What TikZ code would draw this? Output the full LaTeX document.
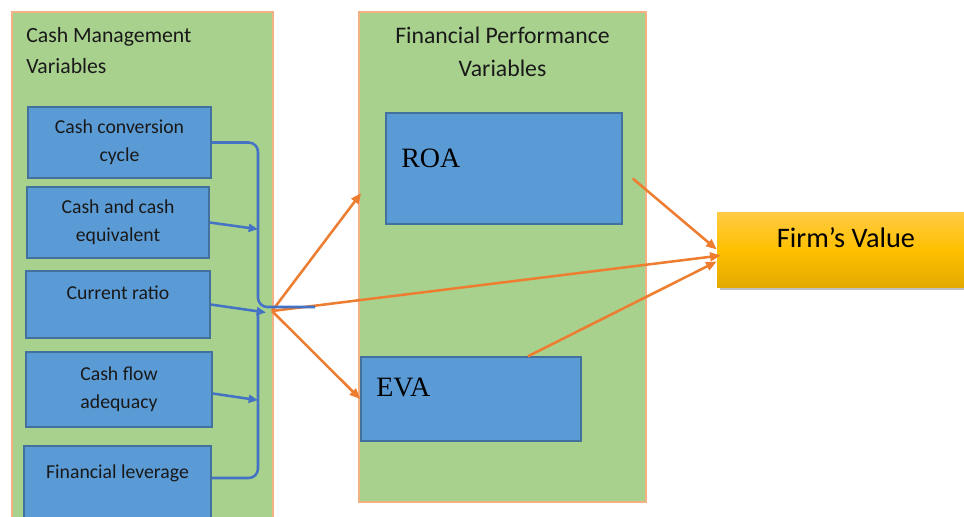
\documentclass[tikz,border=0pt]{standalone}
\usepackage{fontspec}
\setmainfont{Carlito}
\newfontfamily\romanfont{Liberation Serif}
\usepackage{tikz}
\usetikzlibrary{arrows.meta,positioning,shadows,calc}
\usepackage{xcolor}

\definecolor{panelgreen}{HTML}{A9D18E}
\definecolor{panelrim}{HTML}{F4B183}
\definecolor{boxblue}{HTML}{5B9BD5}
\definecolor{boxrim}{HTML}{41719C}
\definecolor{linkblue}{HTML}{4472C4}
\definecolor{linkorange}{HTML}{ED7D31}
\definecolor{goldtop}{HTML}{FFCB45}
\definecolor{goldmid}{HTML}{FFC000}
\definecolor{goldbot}{HTML}{E3AA00}

% one screen pixel
\newcommand{\pxu}{0.75pt}

\tikzset{
  panel/.style={draw=panelrim, line width=1.2pt, fill=panelgreen, inner sep=0},
  paneltitle/.style={inner sep=0, font=\fontsize{16.3}{23.5}\selectfont, text=black!90},
  varbox/.style={draw=boxrim, line width=1.1pt, fill=boxblue, inner sep=0,
    align=center, font=\fontsize{14.8}{21}\selectfont, text=black!90},
  perfbox/.style={draw=boxrim, line width=1.1pt, fill=boxblue, inner sep=0},
  perflabel/.style={inner sep=0, font=\romanfont\fontsize{21}{25}\selectfont},
  valuebox/.style={inner sep=0, top color=goldtop, bottom color=goldbot, middle color=goldmid,
    drop shadow={shadow xshift=2pt, shadow yshift=-2.5pt, fill=black, opacity=0.25}},
  bracelink/.style={draw=linkblue, line width=1.9pt, rounded corners=7pt},
  feedlink/.style={draw=linkblue, line width=1.9pt, -{Triangle[length=7pt,width=6pt]}},
  spread/.style={draw=linkorange, line width=1.9pt, -{Triangle[length=8pt,width=6.5pt]}}
}

\begin{document}
\begin{tikzpicture}[x=0.75pt,y=-0.75pt]
 \useasboundingbox (0,0) rectangle (964,517);

 % the two grouping panels
 \node[panel, minimum width=261*\pxu, minimum height=518*\pxu] (cmpanel) at (142.5,271) {};
 \node[panel, minimum width=287*\pxu, minimum height=490*\pxu] (fppanel) at (502.5,257) {};

 \node[paneltitle, align=left, anchor=north west] (cmtitle) at (26,27) {Cash Management\\Variables};
 \node[paneltitle, align=center, anchor=north, font=\fontsize{17.8}{24.5}\selectfont] (fptitle) at (502.5,27) {Financial Performance\\Variables};

 % cash management variables, top to bottom
 \node[varbox, minimum width=183*\pxu, minimum height=71*\pxu] (ccc) at (119.5,142.5) {Cash conversion\\cycle};
 \node[varbox, minimum width=182*\pxu, minimum height=71*\pxu] (cce) at (118,222.5) {Cash and cash\\equivalent};
 \node[varbox, minimum width=184*\pxu, minimum height=67*\pxu,
  text height=10pt, text depth=18pt] (cr) at (118,304.5) {Current ratio};
 \node[varbox, minimum width=186*\pxu, minimum height=75*\pxu] (cfa) at (119,389.5) {Cash flow\\adequacy};
 \node[varbox, minimum width=187*\pxu, minimum height=80*\pxu,
  text height=10pt, text depth=22pt] (fl) at (117.5,486) {Financial leverage};

 % performance measures
 \node[perfbox, minimum width=236*\pxu, minimum height=111*\pxu] (roa) at (504,168.5) {};
 \node[perfbox, minimum width=220*\pxu, minimum height=84*\pxu] (eva) at (471,399) {};
 \node[perflabel, anchor=base west] (roatext) at (401,167) {ROA};
 \node[perflabel, anchor=base west] (evatext) at (376,396) {EVA};

 % outcome
 \node[valuebox, minimum width=256*\pxu, minimum height=75*\pxu] (firm) at (845,249.5) {};
 \node[inner sep=0, anchor=base, font=\fontsize{21.2}{25}\selectfont] (firmtext) at (846,247) {Firm’s Value};

 \coordinate (spine) at (258,0);
 \coordinate (hub) at (272,311);
 \coordinate (joint) at (258,307);
 \coordinate (tail) at (315,307);
 \coordinate (lowstart) at (258,313);

 % orange arrows out of the bracket
 \draw[spread] (hub) -- ($(fppanel.west)+(3,-64)$);
 \draw[spread] (hub) -- (eva.west);
 \draw[spread] (hub) -- ($(firm.west)+(4,6)$);
 \draw[spread] ($(roa.east)+(10,10)$) -- (firm.west);
 \draw[spread] ($(eva.north)+(57,0)$) -- ($(firm.west)+(0,12)$);

 % blue bracket collecting the variables
 \draw[bracelink] (ccc.east) -| (joint) -- (tail);
 \draw[bracelink] (lowstart) |- ([yshift=6pt]fl.east);
 \draw[feedlink] (cce.east) -- ([yshift=-5pt]spine |- cce.east);
 \draw[feedlink] (cr.east) -- ([xshift=6pt,yshift=-6pt]spine |- cr.east);
 \draw[feedlink] ([yshift=-3pt]cfa.east) -- ([yshift=-8pt]spine |- cfa.east);

\end{tikzpicture}
\end{document}
